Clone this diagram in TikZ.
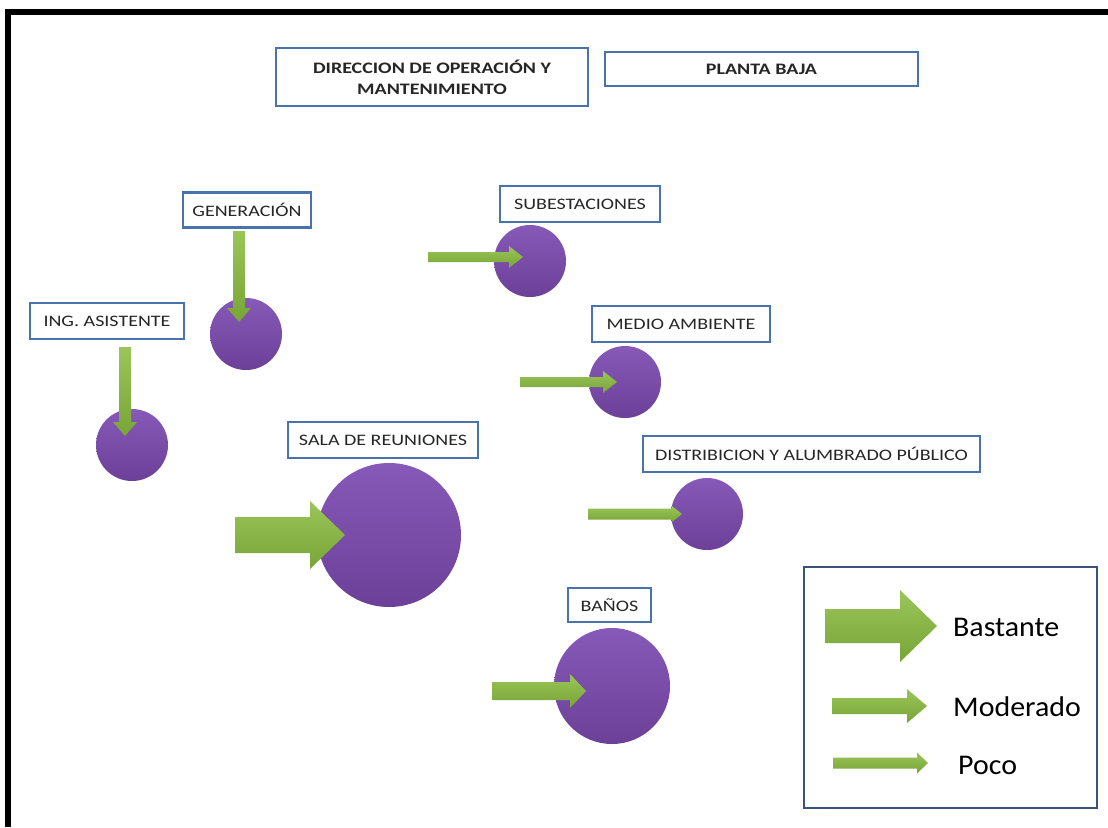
\documentclass[tikz,border=0pt]{standalone}
\usepackage{fontspec}
\setmainfont{Carlito}
\newfontfamily\boxfont{Carlito}[FakeStretch=1.25]
\newfontfamily\legendfont{Carlito}[FakeStretch=1.05]
\usetikzlibrary{calc}

\definecolor{boxblue}{HTML}{4A73AE}
\definecolor{legendline}{HTML}{3B5378}
\definecolor{purpleA}{HTML}{8759B8}
\definecolor{purpleB}{HTML}{6C4098}
\definecolor{greenA}{HTML}{9AC55A}
\definecolor{greenB}{HTML}{78A536}
\definecolor{inktext}{HTML}{262626}

\tikzset{
  labelbox/.style={draw=boxblue, line width=2.3pt, fill=white, inner sep=0pt,
    font=\boxfont\fontsize{16}{18}\selectfont, text=inktext},
  titlebox/.style={labelbox, font=\boxfont\fontsize{16}{21}\selectfont\bfseries, align=center},
  room/.style={circle, inner sep=0pt, draw=none, top color=purpleA, bottom color=purpleB},
  arrowfill/.style={top color=greenA, bottom color=greenB, draw=none},
  legendtext/.style={anchor=west, inner sep=0pt, font=\legendfont\fontsize{28.5}{30}\selectfont, text=black},
  % block arrow: length, shaft half width, head half width, head length
  pics/blockarrow/.style n args={4}{code={
    \path[arrowfill] (0,-#2) -- (#1-#4,-#2) -- (#1-#4,-#3) -- (#1,0)
      -- (#1-#4,#3) -- (#1-#4,#2) -- (0,#2) -- cycle;
  }}
}

\begin{document}
\begin{tikzpicture}[x=1pt, y=-1pt]
  \useasboundingbox (0,0) rectangle (1108,827);
  \fill[white] (0,0) rectangle (1108,827);

  % frame
  \fill[black] (5,9) rectangle (1108,15);
  \fill[black] (5,9) rectangle (11,827);

  % titles
  \node[titlebox, minimum width=312pt, minimum height=58pt] (dir) at (432,77)
    {DIRECCION DE OPERACIÓN Y\\MANTENIMIENTO};
  \node[titlebox, minimum width=313pt, minimum height=34pt] (planta) at (761.5,69)
    {PLANTA BAJA};

  % area labels
  \node[labelbox, minimum width=128pt, minimum height=35pt] (gen) at (247,210) {GENERACIÓN};
  \node[labelbox, minimum width=154pt, minimum height=36pt] (ing) at (107,321) {ING. ASISTENTE};
  \node[labelbox, minimum width=160pt, minimum height=36pt] (sub) at (580,204) {SUBESTACIONES};
  \node[labelbox, minimum width=178pt, minimum height=36pt] (med) at (681,324) {MEDIO AMBIENTE};
  \node[labelbox, minimum width=190pt, minimum height=36pt] (sala) at (383,440) {SALA DE REUNIONES};
  \node[labelbox, minimum width=337pt, minimum height=36pt] (dist) at (811.5,454) {DISTRIBICION Y ALUMBRADO PÚBLICO};
  \node[labelbox, minimum width=83pt, minimum height=34pt] (ban) at (609.5,605) {BAÑOS};

  % rooms
  \node[room, minimum size=72pt] (cGen) at (246,334) {};
  \node[room, minimum size=72pt] (cIng) at (132,445) {};
  \node[room, minimum size=72pt] (cSub) at (530,261) {};
  \node[room, minimum size=72pt] (cMed) at (625,382) {};
  \node[room, minimum size=144pt] (cSala) at (389,535) {};
  \node[room, minimum size=72pt] (cDist) at (707,514) {};
  \node[room, minimum size=116pt] (cBan) at (612,686) {};

  % flow arrows
  \pic[rotate=-90] at (239,231) {blockarrow={91}{6}{12}{14}};
  \pic[rotate=-90] at (125,347) {blockarrow={89}{6}{12}{14}};
  \pic at (428,257) {blockarrow={95}{5}{11}{14}};
  \pic at (520,382) {blockarrow={97}{5}{11}{14}};
  \pic at (588,514) {blockarrow={94}{5.5}{8}{10}};
  \pic at (235,535) {blockarrow={110}{18}{34}{35}};
  \pic at (492,691) {blockarrow={94}{9}{17}{16}};

  % legend
  \node[draw=legendline, line width=2.6pt, minimum width=293pt, minimum height=241pt, inner sep=0pt]
    (legend) at (950.5,687.5) {};
  \pic at (825,626) {blockarrow={112}{17}{36}{37}};
  \pic at (832,706) {blockarrow={95}{8}{17}{20}};
  \pic at (833,763) {blockarrow={95}{5.5}{10.5}{11}};
  \node[legendtext] (lb) at (953,627) {Bastante};
  \node[legendtext] (lm) at (953,707) {Moderado};
  \node[legendtext] (lp) at (958,765) {Poco};
\end{tikzpicture}
\end{document}
